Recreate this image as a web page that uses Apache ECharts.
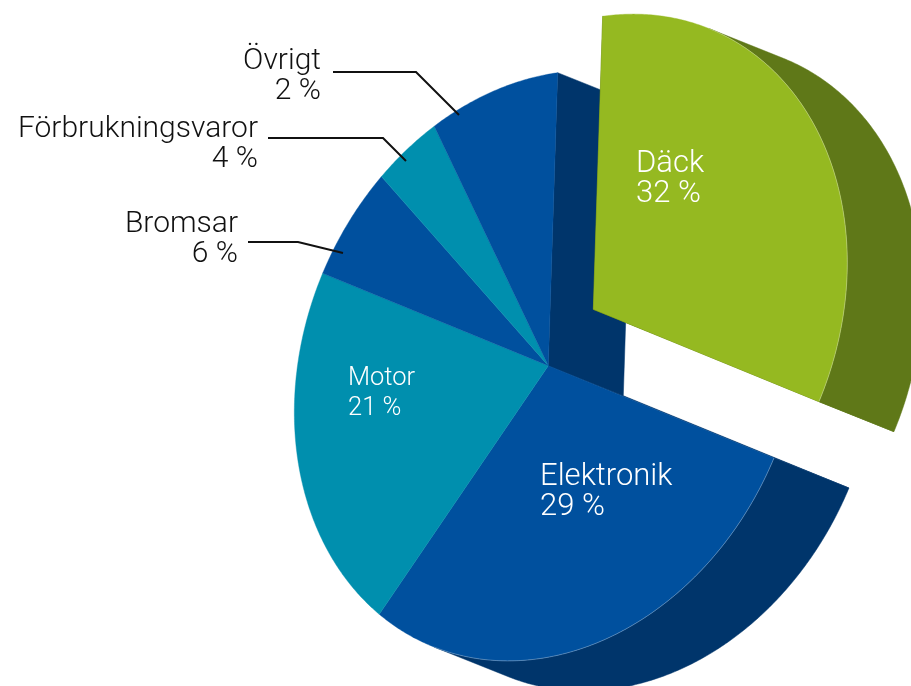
<!DOCTYPE html>
<html>
<head>
<meta charset="utf-8">
<script src="https://cdn.jsdelivr.net/npm/echarts@6/dist/echarts.min.js"></script>
<style>
html, body { margin: 0; padding: 0; background: #fff; }
#chart { width: 911px; height: 686px; }
</style>
</head>
<body>
<div id="chart"></div>
<script>
// kostnadsfördelning, 3D-tårta med utbruten bit för Däck
const categories = ['Däck', 'Elektronik', 'Motor', 'Bromsar', 'Förbrukningsvaror', 'Övrigt'];
const shares = [32, 29, 21, 6, 4, 8];          // slice sizes as drawn
const percentLabels = [32, 29, 21, 6, 4, 2];   // percentages printed in the labels
const explodedSlice = 'Däck';

// colours: top face / side wall
const topColors = ['#95b921', '#00509e', '#008fae', '#00509e', '#008fae', '#00509e'];
const sideColors = ['#5f7818', '#00356b', '#005f75', '#00356b', '#005f75', '#00356b'];

// disc geometry, in pixels of the hidden grid
const center = [548.3, 365.7];
const tilt = [[253.8, -9.4], [-35.8, 293]];
const depth = [75, 30];
const explodeShift = [45, -56.4];

// labels: [x, baseline of first line]; inside ones left aligned, outside right aligned
const labelPos = [[636, 175], [540, 488], [348, 387], [238, 235], [258, 140], [321, 72]];
const labelSize = [31, 31, 25.5, 30, 30, 30];
const labelInside = [true, true, true, false, false, false];
const leaderLines = [null, null, null,
    [[248, 242], [298, 242], [343, 253]],
    [[268, 138], [383, 138], [406, 161]],
    [[333, 72], [416, 72], [459, 115]]];
const labelFont = 'Roboto';

const total = shares.reduce((a, b) => a + b, 0);
const startAngles = [];
let acc = 0;
shares.forEach(v => { startAngles.push(acc / total * 360); acc += v; });

function discPoint(api, deg, shift) {
    const t = deg * Math.PI / 180;
    const ux = Math.sin(t), uy = -Math.cos(t);
    return api.coord([
        center[0] + shift[0] + tilt[0][0] * ux + tilt[0][1] * uy,
        center[1] + shift[1] + tilt[1][0] * ux + tilt[1][1] * uy
    ]);
}

// side wall faces the viewer when the extrusion points outwards
function wallVisible(deg) {
    const t = deg * Math.PI / 180;
    const tx = tilt[0][0] * Math.cos(t) + tilt[0][1] * Math.sin(t);
    const ty = tilt[1][0] * Math.cos(t) + tilt[1][1] * Math.sin(t);
    return ty * depth[0] - tx * depth[1] > 0;
}

function renderSlice(params, api) {
    const i = params.dataIndex;
    const n = shares.length;
    const a0 = startAngles[i];
    const a1 = a0 + shares[i] / total * 360;
    const isOut = categories[i] === explodedSlice;
    const shift = isOut ? explodeShift : [0, 0];
    const below = [shift[0] + depth[0], shift[1] + depth[1]];
    const zBase = isOut ? 10 : 0;
    const children = [];

    const steps = Math.max(2, Math.ceil((a1 - a0) * 2));
    const degs = [];
    for (let k = 0; k <= steps; k++) degs.push(a0 + (a1 - a0) * k / steps);

    // outer wall, only the part turned to us
    let run = [];
    const flush = () => {
        if (run.length > 1) {
            const topPts = run.map(d => discPoint(api, d, shift));
            const botPts = run.slice().reverse().map(d => discPoint(api, d, below));
            children.push({
                type: 'polygon', z2: zBase + 1,
                shape: {points: topPts.concat(botPts)},
                style: {fill: sideColors[i], stroke: sideColors[i], lineWidth: 0.5}
            });
            children.push({
                type: 'polyline', z2: zBase + 3,
                shape: {points: topPts},
                style: {stroke: 'rgba(255,255,255,0.35)', lineWidth: 0.8, fill: null}
            });
        }
        run = [];
    };
    degs.forEach(d => { if (wallVisible(d)) run.push(d); else flush(); });
    flush();

    // radial walls where the neighbour has been pulled out
    const prevOut = categories[(i - 1 + n) % n] === explodedSlice;
    const nextOut = categories[(i + 1) % n] === explodedSlice;
    const edges = [];
    if (isOut || prevOut) edges.push(a0);
    if (isOut || nextOut) edges.push(a1);
    edges.forEach(d => {
        children.push({
            type: 'polygon', z2: zBase + 1,
            shape: {points: [
                api.coord([center[0] + shift[0], center[1] + shift[1]]),
                discPoint(api, d, shift),
                discPoint(api, d, below),
                api.coord([center[0] + below[0], center[1] + below[1]])
            ]},
            style: {fill: sideColors[i], stroke: sideColors[i], lineWidth: 0.5}
        });
    });

    // top face
    children.push({
        type: 'polygon', z2: zBase + 2,
        shape: {points: [api.coord([center[0] + shift[0], center[1] + shift[1]])]
            .concat(degs.map(d => discPoint(api, d, shift)))},
        style: {fill: topColors[i], stroke: topColors[i], lineWidth: 0.4}
    });

    // label
    const fs = labelSize[i];
    const p = api.coord([labelPos[i][0], labelPos[i][1] - 0.34 * fs - 15]);
    children.push({
        type: 'text', z2: 40,
        x: p[0], y: p[1],
        style: {
            text: categories[i] + '\n' + percentLabels[i] + ' %',
            fill: labelInside[i] ? '#ffffff' : '#111111',
            fontFamily: labelFont, fontWeight: 300, fontSize: fs,
            lineHeight: 30,
            align: labelInside[i] ? 'left' : 'right',
            verticalAlign: 'top'
        }
    });
    if (leaderLines[i]) {
        children.push({
            type: 'polyline', z2: 40,
            shape: {points: leaderLines[i].map(pt => api.coord(pt))},
            style: {stroke: '#111111', lineWidth: 2, fill: null}
        });
    }
    return {type: 'group', children: children};
}

const chart = echarts.init(document.getElementById('chart'));
chart.setOption({
    animation: false,
    backgroundColor: '#ffffff',
    grid: {left: 0, right: 0, top: 0, bottom: 0},
    xAxis: {type: 'value', min: 0, max: 911, show: false},
    yAxis: {type: 'value', min: 0, max: 686, inverse: true, show: false},
    series: [{
        type: 'custom',
        coordinateSystem: 'cartesian2d',
        renderItem: renderSlice,
        data: shares.map((v, i) => [i, v]),
        silent: true
    }]
});
</script>
</body>
</html>
